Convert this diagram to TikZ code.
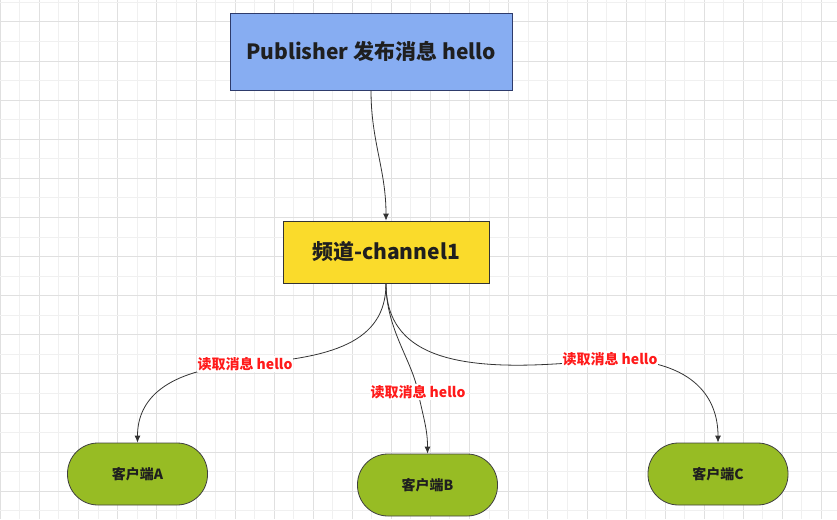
\documentclass[tikz,border=0pt]{standalone}
\usepackage{fontspec}
\setmainfont{Noto Sans CJK SC}
\usetikzlibrary{arrows.meta,positioning}

\definecolor{pubblue}{HTML}{87ADF2}
\definecolor{publine}{HTML}{2E3B6B}
\definecolor{chyellow}{HTML}{FADB2B}
\definecolor{cligreen}{HTML}{97BC24}
\definecolor{lblred}{HTML}{FF1A1A}
\definecolor{gridmaj}{HTML}{E0E0E0}
\definecolor{gridmin}{HTML}{F0F0F0}

\tikzset{
  pubbox/.style={draw=publine,fill=pubblue,line width=0.8pt,minimum width=282pt,
                 minimum height=77pt,font=\fontsize{21}{25}\selectfont\bfseries,text=black!88},
  chbox/.style={draw=black!80,fill=chyellow,line width=0.8pt,minimum width=206pt,
                minimum height=62pt,font=\fontsize{21}{25}\selectfont\bfseries,text=black!88},
  client/.style={rectangle,rounded corners=30.5pt,draw=black!75,fill=cligreen,line width=0.8pt,
                 minimum width=140pt,minimum height=62pt,
                 font=\fontsize{14}{16}\selectfont\bfseries,text=black!88},
  lbl/.style={fill=white,inner sep=1pt,text=lblred,
              font=\fontsize{14}{16}\selectfont\bfseries},
  flow/.style={->,draw=black!80,line width=0.8pt}
}

\begin{document}
\begin{tikzpicture}[x=1pt,y=-1pt,>={Latex[length=7pt,width=6pt]}]
  \useasboundingbox (0,0) rectangle (837,519);

  % grid
  \foreach \k in {0,...,21} {
    \draw[gridmin,line width=0.8pt] (19.75+39.1*\k,0) -- (19.75+39.1*\k,519);
    \draw[gridmaj,line width=0.8pt] (0.4+39.1*\k,0) -- (0.4+39.1*\k,519);
  }
  \foreach \k in {0,...,13} {
    \draw[gridmin,line width=0.8pt] (0,2.35+39.1*\k) -- (837,2.35+39.1*\k);
    \draw[gridmaj,line width=0.8pt] (0,21.9+39.1*\k) -- (837,21.9+39.1*\k);
  }

  \node[pubbox] (pub) at (371,51.5) {Publisher 发布消息 hello};
  \node[chbox]  (ch)  at (386,252)  {频道-channel1};
  \node[client] (ca)  at (137.5,474) {客户端A};
  \node[client] (cb)  at (427.5,485) {客户端B};
  \node[client] (cc)  at (718,474)   {客户端C};

  \path (pub) edge[flow,out=-90,in=90] (ch);

  \draw[flow] (ch.south) .. controls +(0,60) and +(85,-6) .. (245,364)
      node[lbl] {读取消息 hello}
      .. controls +(-80,6) and +(0,-43) .. (ca.north);
  \draw[flow] (ch.south) .. controls +(0,46) and +(-6,-32) .. (418,392)
      node[lbl] {读取消息 hello}
      .. controls +(6,28) and +(0,-24) .. (cb.north);
  \draw[flow] (ch.south) .. controls +(0,80) and +(-140,16) .. (610,359)
      node[lbl] {读取消息 hello}
      .. controls +(80,0) and +(0,-48) .. (cc.north);
\end{tikzpicture}
\end{document}
